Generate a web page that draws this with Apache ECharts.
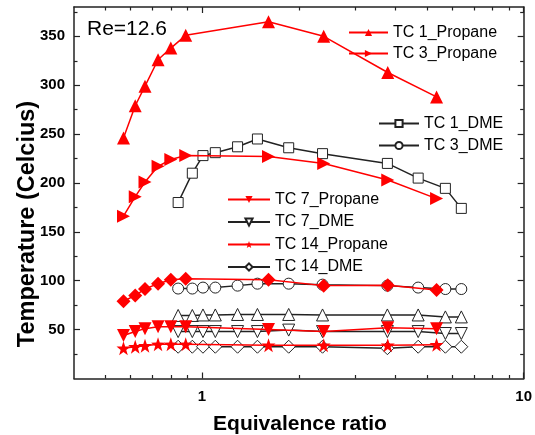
<!DOCTYPE html>
<html>
<head>
<meta charset="utf-8">
<script src="https://cdn.jsdelivr.net/npm/echarts@6/dist/echarts.min.js"></script>
<style>
    html, body { margin: 0; padding: 0; background: #fff; }
    #chart { width: 535px; height: 435px; }
</style>
</head>
<body>
<div id="chart"></div>
<script>
'use strict';

// equivalence ratio of each run
var phiPropane = [0.57, 0.62, 0.665, 0.73, 0.80, 0.89, 1.61, 2.39, 3.78, 5.36];
var phiDme = [0.843, 0.933, 1.007, 1.10, 1.29, 1.487, 1.86, 2.37, 3.77, 4.70, 5.71, 6.40];

// propane temperatures
var tc1Propane = [246, 279, 299, 326, 338, 351, 365, 350, 313, 288];
var tc3Propane = [166, 186, 201, 217, 224, 228, 227, 220, 203, 184];
var diamondPropane = [79, 85, 91.5, 97, 101, 102, 101, 95, 95.5, 90.5];
var tc7Propane = [44, 48, 51, 53, 53, 53, 50, 48, 52, 51];
var tc14Propane = [31, 32.5, 33.5, 35, 35, 35, 34, 34, 34, 34.5];

// DME temperatures
var tc1Dme = [180, 210, 228, 231, 237, 245, 236, 230, 220, 205, 194.5, 174];
var tc3Dme = [92, 92, 93, 93, 95, 97, 97, 96, 95, 93, 91.5, 91.5];
var triangleDme = [64.5, 64.5, 65, 65, 65.5, 65.5, 65.5, 65, 65, 65, 63, 63];
var tc7Dme = [48, 48, 48, 48, 48, 48, 49.5, 48, 48, 48, 46, 46];
var tc14Dme = [32.5, 32.5, 32.5, 32.5, 32.5, 32.5, 32.5, 32.5, 31, 32.5, 32.5, 32.5];

// ticks
var xMajorTicks = [1, 10];
var xMinorTicks = [0.5, 0.6, 0.7, 0.8, 0.9, 2, 3, 4, 5, 6, 7, 8, 9];
var yMajorTicks = [50, 100, 150, 200, 250, 300, 350];
var yMinorTicks = [25, 75, 125, 175, 225, 275, 325, 375];

var RED = '#ff0000';
var BLACK = '#222';
var FONT = '"Liberation Sans", Arial, sans-serif';
var STAR = 'path://M0,-10L2.35,-3.24L9.51,-3.09L3.8,1.24L5.88,8.09L0,4L-5.88,8.09L-3.8,1.24L-9.51,-3.09L-2.35,-3.24Z';

function pairs(xs, ys) {
    var out = [];
    for (var i = 0; i < ys.length; i++) {
        out.push([xs[i], ys[i]]);
    }
    return out;
}

function propaneSeries(name, values, symbol, size, rotate) {
    return {
        name: name,
        type: 'line',
        data: pairs(phiPropane, values),
        symbol: symbol,
        symbolSize: size,
        symbolRotate: rotate || 0,
        itemStyle: { color: RED },
        lineStyle: { color: RED, width: 1.5 },
        z: 3
    };
}

function dmeSeries(name, values, symbol, size, rotate) {
    return {
        name: name,
        type: 'line',
        data: pairs(phiDme, values),
        symbol: symbol,
        symbolSize: size,
        symbolRotate: rotate || 0,
        itemStyle: { color: '#fff', borderColor: BLACK, borderWidth: 1 },
        lineStyle: { color: BLACK, width: 1.5 },
        z: 2
    };
}

function xAxisDef(position, ticks, len, showLine, showLabel) {
    return {
        type: 'log',
        logBase: 10,
        min: 0.4,
        max: 10,
        position: position,
        gridIndex: 0,
        axisLine: { show: showLine, onZero: false, lineStyle: { color: BLACK, width: 1.5 } },
        axisTick: { show: true, inside: true, length: len, customValues: ticks, lineStyle: { color: BLACK, width: 1.2 } },
        axisLabel: {
            show: showLabel, customValues: ticks, margin: 11,
            color: '#000', fontFamily: FONT, fontWeight: 'bold', fontSize: 15
        },
        splitLine: { show: false }
    };
}

function yAxisDef(position, ticks, len, showLine, showLabel) {
    return {
        type: 'value',
        min: 0,
        max: 380,
        position: position,
        gridIndex: 0,
        axisLine: { show: showLine, onZero: false, lineStyle: { color: BLACK, width: 1.5 } },
        axisTick: { show: true, inside: true, length: len, customValues: ticks, lineStyle: { color: BLACK, width: 1.2 } },
        axisLabel: {
            show: showLabel, customValues: ticks, margin: 9,
            color: '#000', fontFamily: FONT, fontWeight: 'bold', fontSize: 15
        },
        splitLine: { show: false }
    };
}

function legendDef(names, left, top, itemWidth, gap) {
    return {
        data: names,
        orient: 'vertical',
        left: left,
        top: top,
        padding: 0,
        itemWidth: itemWidth,
        itemHeight: 9,
        itemGap: gap,
        selectedMode: false,
        textStyle: { color: '#000', fontFamily: FONT, fontSize: 16 }
    };
}

var myChart = echarts.init(document.getElementById('chart'), null, { renderer: 'canvas' });

var option = {
    animation: false,
    backgroundColor: '#fff',
    grid: { left: 74, right: 9, top: 7, bottom: 56.5 },
    xAxis: [
        xAxisDef('bottom', xMajorTicks, 6, true, true),
        xAxisDef('bottom', xMinorTicks, 3.5, false, false),
        xAxisDef('top', xMajorTicks, 6, true, false),
        xAxisDef('top', xMinorTicks, 3.5, false, false)
    ],
    yAxis: [
        yAxisDef('left', yMajorTicks, 6, true, true),
        yAxisDef('left', yMinorTicks, 3.5, false, false),
        yAxisDef('right', yMajorTicks, 6, true, false),
        yAxisDef('right', yMinorTicks, 3.5, false, false)
    ],
    legend: [
        legendDef(['TC 1_Propane', 'TC 3_Propane'], 348, 24.5, 39, 5),
        legendDef(['TC 1_DME', 'TC 3_DME'], 378, 115.5, 40, 6),
        legendDef(['TC 7_Propane', 'TC 7_DME', 'TC 14_Propane', 'TC 14_DME'], 227, 191.5, 42, 6.5)
    ],
    graphic: [
        {
            type: 'text', x: 87, y: 29,
            style: { text: 'Re=12.6', font: '21px ' + FONT, fill: '#000', align: 'left', verticalAlign: 'middle' }
        },
        {
            type: 'text', x: 300, y: 424,
            style: { text: 'Equivalence ratio', font: 'bold 21px ' + FONT, fill: '#000', align: 'center', verticalAlign: 'middle' }
        },
        {
            type: 'text', x: 28, y: 224, rotation: Math.PI / 2,
            style: { text: 'Temperature (Celcius)', font: 'bold 23.5px ' + FONT, fill: '#000', align: 'center', verticalAlign: 'middle' }
        }
    ],
    series: [
        dmeSeries('TC 1_DME', tc1Dme, 'rect', 10),
        dmeSeries('TC 3_DME', tc3Dme, 'circle', 11),
        dmeSeries('DME open triangle', triangleDme, 'triangle', 12),
        dmeSeries('TC 7_DME', tc7Dme, 'triangle', 12, 180),
        dmeSeries('TC 14_DME', tc14Dme, 'diamond', 13),
        propaneSeries('TC 1_Propane', tc1Propane, 'triangle', 13),
        propaneSeries('TC 3_Propane', tc3Propane, 'triangle', 13, -90),
        propaneSeries('Propane diamond', diamondPropane, 'diamond', 14),
        propaneSeries('TC 7_Propane', tc7Propane, 'triangle', 13, 180),
        propaneSeries('TC 14_Propane', tc14Propane, STAR, 14)
    ]
};

myChart.setOption(option);
</script>
</body>
</html>
